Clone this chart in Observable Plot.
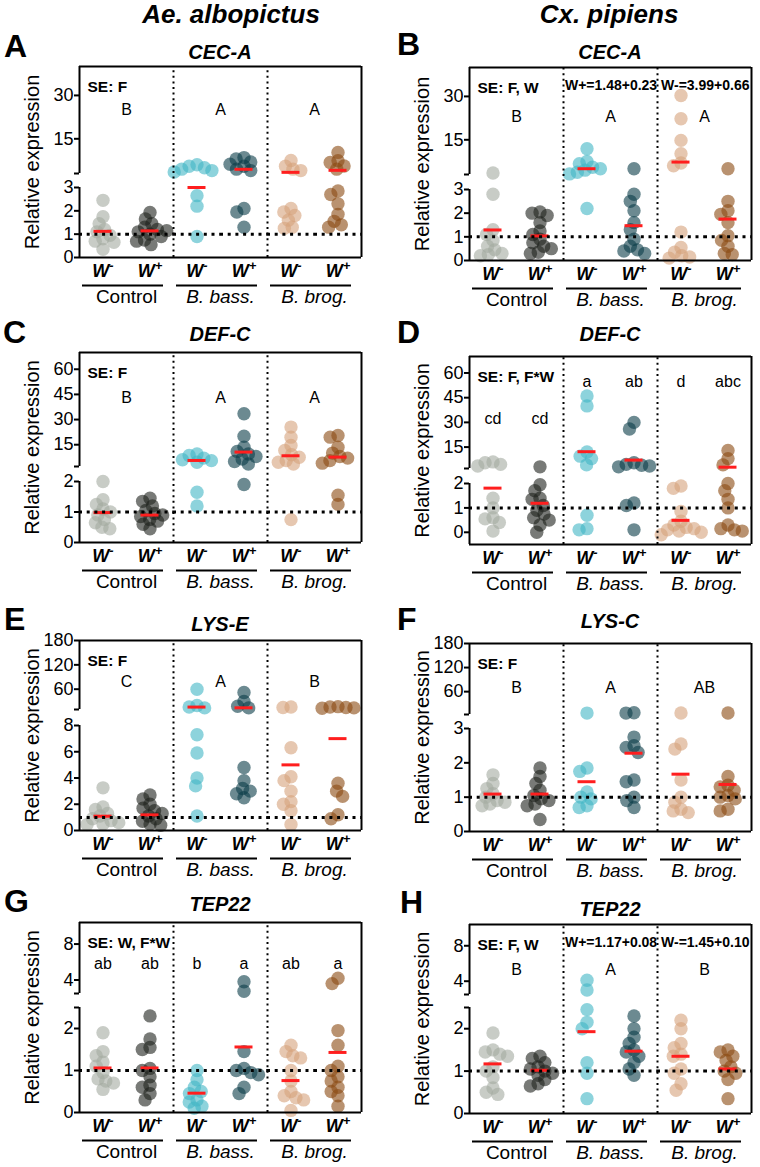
<!DOCTYPE html>
<html>
<head>
<meta charset="utf-8">
<script src="https://cdn.jsdelivr.net/npm/d3@7"></script>
<script src="https://cdn.jsdelivr.net/npm/@observablehq/plot@0.6"></script>
<style>
html,body{margin:0;padding:0;background:#fff;}
#root{position:relative;width:760px;height:1167px;overflow:hidden;font-family:"Liberation Sans",Arial,Helvetica,sans-serif;}
#root svg{position:absolute;overflow:visible;}
</style>
</head>
<body>
<div id="root"></div>
<script>
// ---------- categories ----------
const groups = ["C-", "C+", "BB-", "BB+", "BR-", "BR+"];
const treatments = ["Control", "B. bass.", "B. brog."];
const groupColors = ["#a3aaa0", "#1e211d", "#41b5c5", "#0a3c48", "#d5a27b", "#8a4a10"];
const species = ["Ae. albopictus", "Cx. pipiens"];

// ---------- Panel A : Ae. albopictus CEC-A ----------
const geneA = "CEC-A";
const valuesA = [
  [2.45, 1.75, 1.45, 1.2, 1.1, 0.95, 0.8, 0.7, 0.65, 0.35],
  [1.93, 1.65, 1.45, 1.3, 1.2, 1.1, 1.0, 0.9, 0.75, 0.55, 0.7, 1.15],
  [6.0, 5.5, 5.0, 4.5, 4.0, 3.5, 2.65, 2.2, 0.9],
  [8.5, 8.0, 7.0, 6.2, 5.5, 4.5, 4.0, 2.1, 1.95, 1.3],
  [7.5, 5.5, 4.5, 4.0, 2.1, 1.95, 1.8, 1.6, 1.3, 1.25],
  [10.3, 7.4, 6.8, 5.6, 4.5, 2.85, 2.7, 2.3, 1.85, 1.55, 1.4, 1.3]
];
const meansA = [1.12, 1.14, 3.0, 4.45, 3.4, 4.1];
const lettersA = ["B", "A", "A"];
const letterYA = [25, 25, 25];
const ticksA = [0, 1, 2, 3, 15, 30];
const lowerA = [0, 3];
const upperA = [3, 40];
const seA = "SE: F";
const statA = "";

// ---------- Panel B : Cx. pipiens CEC-A ----------
const geneB = "CEC-A";
const valuesB = [
  [3.5, 2.8, 1.3, 1.1, 0.85, 0.6, 0.45, 0.3, 0.25, 0.2],
  [2.05, 2.0, 1.9, 1.6, 1.25, 1.1, 0.9, 0.75, 0.6, 0.5, 0.35, 0.3],
  [11.9, 7.5, 6.7, 5.5, 5.0, 4.5, 3.8, 3.2, 2.2],
  [5.0, 2.8, 2.5, 2.1, 1.6, 1.3, 0.9, 0.6, 0.45, 0.4, 0.3],
  [30.3, 22.3, 14.8, 10.2, 7.0, 6.0, 1.2, 0.55, 0.35, 0.2, 0.15, 0.1],
  [5.0, 2.5, 2.1, 1.95, 1.6, 1.05, 0.85, 0.6, 0.3, 0.25]
];
const meansB = [1.29, 1.04, 5.0, 1.47, 7.3, 1.75];
const lettersB = ["B", "A", "A"];
const letterYB = [23, 23, 23];
const ticksB = [0, 1, 2, 3, 15, 30];
const lowerB = [0, 3];
const upperB = [3, 40];
const seB = "SE: F, W";
const statB = "W+=1.48+0.23 W-=3.99+0.66";

// ---------- Panel C : Ae. albopictus DEF-C ----------
const geneC = "DEF-C";
const valuesC = [
  [2.0, 1.4, 1.25, 1.1, 1.0, 0.9, 0.75, 0.65, 0.5, 0.45],
  [1.45, 1.35, 1.2, 1.05, 0.95, 0.85, 0.9, 0.75, 0.7, 0.6, 0.45],
  [9.5, 8.6, 7.0, 6.0, 5.5, 4.5, 1.65, 1.2],
  [33.5, 20, 13.5, 11, 9.5, 8, 6.5, 5, 3.5, 1.9],
  [25.5, 19.5, 14.5, 11.5, 9, 7.5, 5.5, 4.5, 3.5, 0.75],
  [20.5, 19.5, 13.5, 10, 8, 7, 5.5, 4, 1.55, 1.25]
];
const meansC = [0.98, 0.9, 5.6, 10.6, 8.4, 7.6];
const lettersC = ["B", "A", "A"];
const letterYC = [43, 43, 43];
const ticksC = [0, 1, 2, 15, 30, 45, 60];
const lowerC = [0, 2];
const upperC = [2, 70];
const seC = "SE: F";
const statC = "";

// ---------- Panel D : Cx. pipiens DEF-C ----------
const geneD = "DEF-C";
const valuesD = [
  [6.0, 5.5, 4.5, 3.5, 1.4, 1.0, 0.6, 0.55, 0.4, 0.05],
  [3.0, 1.95, 1.7, 1.4, 1.35, 1.1, 0.9, 0.75, 0.6, 0.5, 0.3, 0.0],
  [46, 40, 12, 9.5, 8, 4.2, 0.7, 0.15, 0.1],
  [30, 26, 5.5, 4.5, 4.0, 3.5, 3.0, 1.2, 1.1, 0.1],
  [1.9, 1.8, 0.85, 0.45, 0.3, 0.2, 0.15, 0.1, 0.05, 0.0, -0.1],
  [13, 8, 4.2, 2.0, 1.7, 1.35, 1.0, 0.3, 0.15, 0.1, 0.05]
];
const meansD = [1.81, 1.19, 12.2, 7.1, 0.49, 2.8];
const lettersD = ["cd", "cd", "a", "ab", "d", "abc"];
const letterYD = [32, 32, 54.5, 54.5, 54.5, 54.5];
const ticksD = [0, 1, 2, 15, 30, 45, 60];
const lowerD = [-0.5, 2];
const upperD = [2, 70];
const seD = "SE: F, F*W";
const statD = "";

// ---------- Panel E : Ae. albopictus LYS-E ----------
const geneE = "LYS-E";
const valuesE = [
  [3.25, 1.8, 1.6, 1.3, 1.1, 0.9, 0.75, 0.6, 0.5, 0.45],
  [2.7, 2.4, 2.0, 1.7, 1.5, 1.3, 1.1, 0.9, 0.7, 0.5, 0.4],
  [60, 20, 16, 14, 7.3, 5.9, 4.0, 3.4, 1.1],
  [52, 30, 18, 14, 4.8, 3.8, 3.2, 3.0, 2.8, 2.5],
  [16, 15, 6.3, 4.1, 3.8, 3.0, 2.2, 2.0, 1.5, 0.45],
  [17, 16, 15, 14, 13, 3.6, 3.0, 2.6, 1.2, 0.9]
];
const meansE = [1.09, 1.19, 16, 14.2, 5.0, 7.0];
const lettersE = ["C", "A", "B"];
const letterYE = [77, 77, 77];
const ticksE = [0, 2, 4, 6, 8, 60, 120, 180];
const lowerE = [0, 8];
const upperE = [10, 180];
const seE = "SE: F";
const statE = "";

// ---------- Panel F : Cx. pipiens LYS-C ----------
const geneF = "LYS-C";
const valuesF = [
  [1.65, 1.4, 1.25, 1.1, 1.0, 0.9, 0.85, 0.8, 0.75],
  [1.85, 1.6, 1.4, 1.2, 1.05, 0.95, 0.9, 0.8, 0.75, 0.35],
  [6.5, 1.85, 1.75, 1.15, 1.0, 0.95, 0.75, 0.7],
  [7.5, 6.5, 2.75, 2.5, 2.45, 2.3, 1.5, 1.45, 1.0, 0.9, 0.7],
  [6.7, 2.55, 2.4, 1.5, 1.0, 0.85, 0.65, 0.6, 0.55],
  [6.7, 1.6, 1.35, 1.3, 1.2, 1.05, 1.0, 0.95, 0.65, 0.6]
];
const meansF = [1.09, 1.09, 1.45, 2.28, 1.67, 1.37];
const lettersF = ["B", "A", "AB"];
const letterYF = [70, 70, 70];
const ticksF = [0, 1, 2, 3, 60, 120, 180];
const lowerF = [0, 3];
const upperF = [3, 180];
const seF = "SE: F";
const statF = "";

// ---------- Panel G : Ae. albopictus TEP22 ----------
const geneG = "TEP22";
const valuesG = [
  [1.9, 1.45, 1.35, 1.2, 1.1, 0.95, 0.8, 0.75, 0.7, 0.55],
  [2.3, 1.75, 1.55, 1.5, 1.05, 1.0, 0.85, 0.65, 0.6, 0.45, 0.3],
  [1.0, 0.78, 0.6, 0.5, 0.45, 0.3, 0.25, 0.15, 0.1],
  [3.8, 2.75, 1.45, 1.05, 1.0, 0.95, 0.9, 0.6, 0.45],
  [1.6, 1.45, 1.35, 1.3, 1.0, 0.75, 0.5, 0.4, 0.35, 0.3, 0.05],
  [4.2, 3.6, 1.95, 1.6, 1.1, 1.0, 0.85, 0.75, 0.6, 0.5, 0.4, 0.15]
];
const meansG = [1.06, 1.06, 0.46, 1.56, 0.76, 1.43];
const lettersG = ["ab", "ab", "b", "a", "ab", "a"];
const letterYG = [5.75, 5.75, 5.75, 5.75, 5.75, 5.75];
const ticksG = [0, 1, 2, 4, 8];
const lowerG = [0, 2.5];
const upperG = [2.5, 10.4];
const seG = "SE: W, F*W";
const statG = "";

// ---------- Panel H : Cx. pipiens TEP22 ----------
const geneH = "TEP22";
const valuesH = [
  [1.9, 1.5, 1.45, 1.4, 1.35, 1.1, 1.0, 0.85, 0.6, 0.5, 0.45],
  [1.35, 1.3, 1.2, 1.1, 1.05, 1.0, 0.95, 0.9, 0.8, 0.7, 0.65],
  [4.1, 3.0, 2.45, 2.15, 2.0, 1.2, 0.95, 0.35],
  [2.3, 2.0, 1.8, 1.65, 1.5, 1.45, 1.35, 1.2, 1.05, 0.9],
  [2.2, 2.0, 1.65, 1.55, 1.4, 1.35, 1.05, 0.95, 0.7, 0.55],
  [1.5, 1.45, 1.35, 1.25, 1.1, 1.0, 0.95, 0.8, 0.35]
];
const meansH = [1.17, 1.02, 1.93, 1.47, 1.35, 1.05];
const lettersH = ["B", "A", "B"];
const letterYH = [5.3, 5.3, 5.3];
const ticksH = [0, 1, 2, 4, 8];
const lowerH = [0, 2.5];
const upperH = [2.5, 10.4];
const seH = "SE: F, W";
const statH = "W+=1.17+0.08 W-=1.45+0.10";

// ---------- layout ----------
const FONT = '"Liberation Sans", Arial, Helvetica, sans-serif';
const panels = [
  {id: "A", col: 0, top: 66,  fh: 191, lowerPx: 70,  gapPx: 14, gene: geneA, values: valuesA, means: meansA, letters: lettersA, letterY: letterYA, ticks: ticksA, lower: lowerA, upper: upperA, se: seA, stat: statA},
  {id: "B", col: 1, top: 67,  fh: 193, lowerPx: 71,  gapPx: 15, gene: geneB, values: valuesB, means: meansB, letters: lettersB, letterY: letterYB, ticks: ticksB, lower: lowerB, upper: upperB, se: seB, stat: statB},
  {id: "C", col: 0, top: 352, fh: 190, lowerPx: 61,  gapPx: 15, gene: geneC, values: valuesC, means: meansC, letters: lettersC, letterY: letterYC, ticks: ticksC, lower: lowerC, upper: upperC, se: seC, stat: statC},
  {id: "D", col: 1, top: 356, fh: 188, lowerPx: 61,  gapPx: 15, gene: geneD, values: valuesD, means: meansD, letters: lettersD, letterY: letterYD, ticks: ticksD, lower: lowerD, upper: upperD, se: seD, stat: statD},
  {id: "E", col: 0, top: 640, fh: 190, lowerPx: 105, gapPx: 16, gene: geneE, values: valuesE, means: meansE, letters: lettersE, letterY: letterYE, ticks: ticksE, lower: lowerE, upper: upperE, se: seE, stat: statE},
  {id: "F", col: 1, top: 643, fh: 188, lowerPx: 103, gapPx: 14, gene: geneF, values: valuesF, means: meansF, letters: lettersF, letterY: letterYF, ticks: ticksF, lower: lowerF, upper: upperF, se: seF, stat: statF},
  {id: "G", col: 0, top: 922, fh: 190, lowerPx: 105, gapPx: 14, gene: geneG, values: valuesG, means: meansG, letters: lettersG, letterY: letterYG, ticks: ticksG, lower: lowerG, upper: upperG, se: seG, stat: statG},
  {id: "H", col: 1, top: 924, fh: 189, lowerPx: 106, gapPx: 13, gene: geneH, values: valuesH, means: meansH, letters: lettersH, letterY: letterYH, ticks: ticksH, lower: lowerH, upper: upperH, se: seH, stat: statH}
];
const colLeft = [0, 380];
const colMarginLeft = [79, 89];
const colMarginRight = [19, 9];
const MT = 10, MB = 62, W = 380;

const root = document.getElementById("root");

function makePanel(p) {
  const [lo0, lo1] = p.lower;
  let [up0, up1] = p.upper;
  if (up0 <= lo1) up0 = lo1 + 1e-4;
  const yb = MT + p.fh;
  const yRange = [yb, yb - p.lowerPx, yb - p.lowerPx - p.gapPx, MT];
  const pts = p.values.flatMap((vs, i) => vs.map(v => ({g: groups[i], v})));
  const means = p.means.map((m, i) => ({g: groups[i], m}));
  const tickVals = Array.from(new Set([...p.ticks, lo1, up0])).sort((a, b) => a - b);
  const labeled = new Set(p.ticks);
  const wPlus = groups.filter(g => g.endsWith("+"));
  const wMinus = groups.filter(g => g.endsWith("-"));
  const perTreatment = p.letters.length === 3;
  const letterData = p.letters.map((t, i) => ({g: perTreatment ? wPlus[i] : groups[i], t, y: p.letterY[i]}));
  const italicTreat = treatments.slice(1).map((t, i) => ({g: wPlus[i + 1], t}));

  const marks = [
    Plot.dot(pts, Plot.dodgeX({anchor: "middle", r: 6.7, padding: -5.4},
      {fx: "g", y: "v", r: 6.7, fill: "g", fillOpacity: 0.6})),
    Plot.tickY(means, {fx: "g", y: "m", stroke: "#ff1e1e", strokeWidth: 3, insetLeft: 14.5, insetRight: 14.5}),
    Plot.ruleY([1], {stroke: "#000", strokeWidth: 3, strokeDasharray: "3,4.7"}),
    Plot.ruleX(["BB-", "BR-"], {fx: d => d, x: 0, y1: lo0, y2: up1, stroke: "#000", strokeWidth: 2, strokeDasharray: "2,3.6"}),
    // frame (left side broken)
    Plot.ruleY([up1], {stroke: "#000", strokeWidth: 2}),
    Plot.ruleY([lo0], {stroke: "#000", strokeWidth: 2}),
    Plot.ruleX([[lo0, lo1], [up0, up1]], {fx: () => "C-", x: 0, y1: d => d[0], y2: d => d[1], stroke: "#000", strokeWidth: 2}),
    Plot.ruleX(["BR+"], {fx: d => d, x: 1, y1: lo0, y2: up1, stroke: "#000", strokeWidth: 2}),
    Plot.axisY(tickVals, {tickFormat: d => labeled.has(d) ? String(d) : "", tickSize: 5, tickPadding: 1, fontSize: 18, strokeWidth: 2, label: null}),
    Plot.text(["Relative expression"], {fx: () => "C-", frameAnchor: "left", textAnchor: "middle", rotate: -90, dx: -47, fontSize: 20}),
    // annotations
    Plot.text([p.se], {fx: () => "C-", frameAnchor: "top-left", textAnchor: "start", dx: 8, dy: 14, fontWeight: "bold", fontSize: 15.5}),
    Plot.text([p.stat], {fx: () => "BR+", frameAnchor: "top-right", textAnchor: "end", dx: -2, dy: 13, fontWeight: "bold", fontSize: 14}),
    perTreatment
      ? Plot.text(letterData, {fx: "g", x: 0, y: "y", text: "t", fontSize: 16})
      : Plot.text(letterData, {fx: "g", y: "y", text: "t", fontSize: 16}),
    // x labels
    Plot.text(groups, {fx: d => d, frameAnchor: "bottom", dy: 19, text: d => d.endsWith("-") ? "W-" : "W+", fontWeight: "bold", fontStyle: "italic", fontSize: 18}),
    Plot.ruleY(wMinus, {fx: d => d, y: lo0, dy: 28, insetLeft: 3, stroke: "#000", strokeWidth: 2}),
    Plot.ruleY(wPlus, {fx: d => d, y: lo0, dy: 28, insetRight: 10, stroke: "#000", strokeWidth: 2}),
    Plot.text([treatments[0]], {fx: () => wPlus[0], x: 0, frameAnchor: "bottom", dy: 45, fontSize: 19}),
    Plot.text(italicTreat, {fx: "g", x: 0, text: "t", frameAnchor: "bottom", dy: 45, fontSize: 19, fontStyle: "italic"})
  ];

  const svg = Plot.plot({
    width: W,
    height: MT + p.fh + MB,
    marginTop: MT,
    marginBottom: MB,
    marginLeft: colMarginLeft[p.col],
    marginRight: colMarginRight[p.col],
    style: {fontFamily: FONT, fontSize: "18px", color: "#000", background: "transparent", overflow: "visible"},
    x: {domain: [0, 1], axis: null},
    fx: {domain: groups, padding: 0, axis: null},
    y: {type: "linear", domain: [lo0, lo1, up0, up1], range: yRange, axis: null},
    color: {domain: groups, range: groupColors},
    marks
  });

  // superscript signs on the W labels
  d3.select(svg).selectAll("text")
    .filter(function () { return this.textContent === "W-" || this.textContent === "W+"; })
    .each(function () {
      const s = this.textContent;
      const el = d3.select(this);
      el.text("W");
      el.append("tspan").attr("dy", "-0.5em").attr("font-size", "0.72em").text(s.endsWith("-") ? "-" : "+");
    });

  svg.style.left = colLeft[p.col] + "px";
  svg.style.top = (p.top - MT) + "px";
  root.appendChild(svg);
}

panels.forEach(makePanel);

// ---------- titles, panel letters, gene names ----------
const overlay = d3.create("svg").attr("width", 760).attr("height", 1167)
  .style("left", "0px").style("top", "0px").style("font-family", FONT);
const speciesX = [231, 609];
species.forEach((s, i) => overlay.append("text").attr("x", speciesX[i]).attr("y", 23)
  .attr("text-anchor", "middle").attr("font-size", 26).attr("font-weight", "bold").attr("font-style", "italic").text(s));
const letterPos = [[4, 57], [397, 55], [3, 343], [397, 343], [4, 630], [397, 630], [4, 912], [400, 913]];
const geneY = [52, 52, 334, 334, 624, 621, 904, 909];
panels.forEach((p, i) => {
  overlay.append("text").attr("x", letterPos[i][0]).attr("y", letterPos[i][1])
    .attr("font-size", 32).attr("font-weight", "bold").text(p.id);
  const fl = colLeft[p.col] + colMarginLeft[p.col];
  const fr = colLeft[p.col] + W - colMarginRight[p.col];
  overlay.append("text").attr("x", (fl + fr) / 2).attr("y", geneY[i] + 7)
    .attr("text-anchor", "middle").attr("font-size", 20).attr("font-weight", "bold").attr("font-style", "italic").text(p.gene);
});
root.appendChild(overlay.node());
</script>
</body>
</html>
